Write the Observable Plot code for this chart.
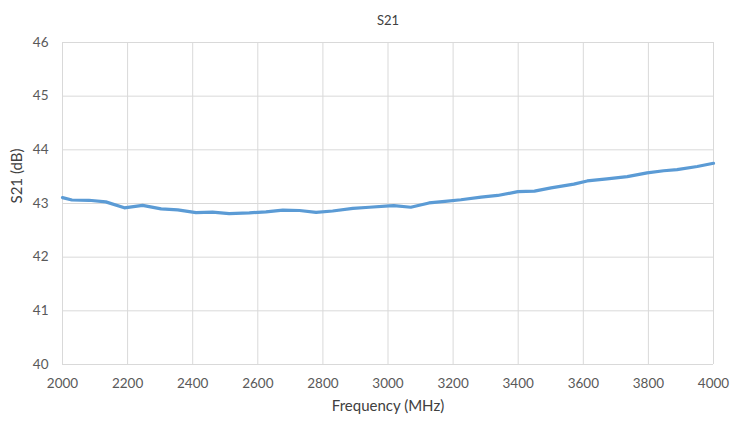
<!DOCTYPE html>
<html>
<head>
<meta charset="utf-8">
<script src="https://cdn.jsdelivr.net/npm/d3@7"></script>
<script src="https://cdn.jsdelivr.net/npm/@observablehq/plot@0.6"></script>
<style>
  html, body { margin: 0; padding: 0; background: #fff; }
  #chart svg { display: block; }
</style>
</head>
<body>
<div id="chart"></div>
<script>
const frequency = [2000, 2029, 2081, 2133, 2190, 2246, 2303, 2354, 2410, 2461, 2512, 2574, 2625, 2677, 2728, 2779, 2830, 2892, 2943, 3003, 3018, 3070, 3126, 3175, 3224, 3286, 3337, 3399, 3450, 3501, 3571, 3612, 3673, 3735, 3796, 3847, 3888, 3950, 4000];
const s21 = [43.11, 43.065, 43.06, 43.03, 42.92, 42.965, 42.90, 42.88, 42.83, 42.84, 42.81, 42.825, 42.845, 42.875, 42.87, 42.835, 42.86, 42.91, 42.93, 42.955, 42.96, 42.93, 43.01, 43.04, 43.07, 43.12, 43.15, 43.22, 43.23, 43.29, 43.36, 43.42, 43.46, 43.50, 43.57, 43.61, 43.63, 43.69, 43.75];
const xTicks = [2000, 2200, 2400, 2600, 2800, 3000, 3200, 3400, 3600, 3800, 4000];
const yTicks = [40, 41, 42, 43, 44, 45, 46];
const chartTitle = "S21";
const xLabel = "Frequency (MHz)";
const yLabel = "S21 (dB)";

const data = frequency.map((f, i) => ({f, v: s21[i]}));

const chart = Plot.plot({
  width: 731,
  height: 424,
  marginLeft: 62,
  marginRight: 18,
  marginTop: 42,
  marginBottom: 60,
  style: {fontFamily: "Lato, 'Open Sans', sans-serif", fontSize: "13px", color: "#595959", background: "#fff"},
  x: {domain: [2000, 4000], ticks: xTicks},
  y: {domain: [40, 46], ticks: yTicks},
  marks: [
    Plot.gridX(xTicks, {stroke: "#d9d9d9", strokeOpacity: 1, strokeWidth: 1}),
    Plot.gridY(yTicks, {stroke: "#d9d9d9", strokeOpacity: 1, strokeWidth: 1}),
    Plot.axisX(xTicks, {tickSize: 0, tickPadding: 14, tickFormat: d => String(d), fill: "#595959", fontSize: 13.5, label: null}),
    Plot.axisY(yTicks, {tickSize: 0, tickPadding: 14, tickFormat: d => String(d), fill: "#595959", fontSize: 13.5, label: null}),
    Plot.text([yLabel], {frameAnchor: "left", dx: -45, rotate: -90, fontSize: 15, fill: "#404040", text: d => d}),
    Plot.text([xLabel], {frameAnchor: "bottom", dy: 46, fontSize: 15, fill: "#404040", text: d => d}),
    Plot.text([chartTitle], {frameAnchor: "top", dy: -27, fontSize: 13, fill: "#404040", text: d => d}),
    Plot.line(data, {x: "f", y: "v", stroke: "#5b9bd5", strokeWidth: 3.2, strokeLinejoin: "round", strokeLinecap: "round"})
  ]
});
document.getElementById("chart").appendChild(chart);
</script>
</body>
</html>
